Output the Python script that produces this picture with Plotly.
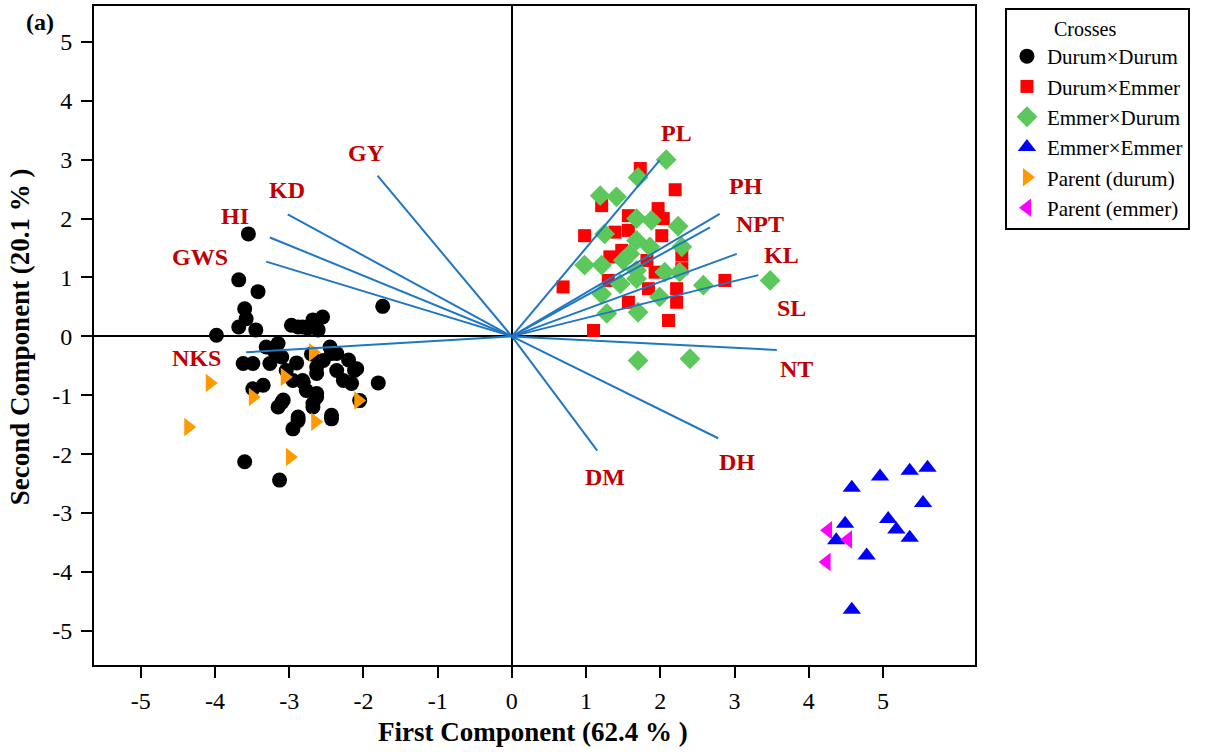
import plotly.graph_objects as go

# ---- data ----
dd_x = [-3.55, -3.68, -3.42, -3.60, -3.58, -3.68, -3.45, -3.98, -1.74,
        -2.97, -2.82, -2.68, -2.55, -2.61, -2.88, -2.75,
        -3.31, -3.15, -3.62, -3.49, -3.26, -3.10, -3.04, -2.95, -2.81, -2.63,
        -2.54, -2.36, -2.36, -2.27, -2.12, -2.16, -1.80, -3.35, -3.49, -2.77,
        -2.63, -2.68, -3.10, -3.15, -2.05, -2.88, -2.95, -2.43, -3.60, -3.13,
        -2.45, -2.43, -2.09, -2.63, -2.82, -3.08, -2.63, -2.68, -2.88, -2.43,
        -3.20, -2.90, -2.70, -2.20]
dd_y = [1.74, 0.96, 0.76, 0.47, 0.30, 0.16, 0.11, 0.02, 0.51,
        0.19, 0.16, 0.28, 0.33, 0.11, 0.16, 0.14,
        -0.18, -0.12, -0.46, -0.46, -0.46, -0.35, -0.58, -0.75, -0.78, -0.63,
        -0.41, -0.29, -0.58, -0.75, -0.58, -0.80, -0.79, -0.83, -0.89, -0.92,
        -0.97, -1.14, -1.12, -1.20, -1.09, -1.43, -1.57, -1.40, -2.13, -2.44,
        -0.18, -0.29, -0.55, -0.52, -0.75, -1.08, -1.03, -1.20, -1.37, -1.34,
        -0.25, -0.45, -0.30, -0.40]

de_x = [1.73, 2.20, 1.21, 1.97, 1.57, 0.98, 1.39, 1.57, 2.04, 2.02, 1.48, 1.32,
        2.29, 2.29, 1.82, 1.93, 1.30, 1.84, 2.87, 2.22, 2.22, 1.57, 2.11, 0.69, 1.10]
de_y = [2.85, 2.49, 2.22, 2.17, 2.05, 1.71, 1.77, 1.80, 2.00, 1.71, 1.46, 1.35,
        1.38, 1.15, 1.29, 1.09, 0.95, 0.81, 0.95, 0.81, 0.58, 0.58, 0.27, 0.84, 0.10]

ed_x = [2.08, 1.70, 1.19, 1.41, 1.68, 1.88, 2.24, 1.25, 1.68, 1.86, 1.59, 2.29,
        0.98, 1.21, 1.50, 1.68, 2.06, 2.26, 1.46, 1.21, 1.68, 1.99, 2.58, 3.48,
        1.28, 1.70, 1.70, 2.40]
ed_y = [3.00, 2.70, 2.39, 2.37, 2.00, 1.97, 1.87, 1.74, 1.63, 1.52, 1.40, 1.52,
        1.21, 1.21, 1.29, 1.12, 1.09, 1.09, 0.89, 0.72, 0.98, 0.67, 0.87, 0.95,
        0.39, 0.41, -0.41, -0.38]

ee_x = [4.58, 4.96, 5.36, 5.60, 5.54, 5.07, 5.18, 5.36, 4.49, 4.37, 4.78, 4.58]
ee_y = [-2.57, -2.38, -2.28, -2.23, -2.83, -3.10, -3.28, -3.42, -3.18, -3.46, -3.72, -4.64]

pdur_x = [-4.07, -3.49, -3.06, -2.68, -2.65, -2.07, -4.36, -2.99]
pdur_y = [-0.79, -1.03, -0.69, -0.27, -1.45, -1.09, -1.54, -2.05]

pemm_x = [4.26, 4.53, 4.24]
pemm_y = [-3.29, -3.45, -3.83]

var_names = ["PL", "PH", "NPT", "KL", "SL", "NT", "DH", "DM", "GY", "KD", "HI", "GWS", "NKS"]
var_x = [1.99, 2.80, 2.67, 3.03, 3.32, 3.57, 2.78, 1.15, -1.81, -3.02, -3.26, -3.31, -3.58]
var_y = [2.99, 2.08, 1.85, 1.40, 1.04, -0.23, -1.73, -1.94, 2.73, 2.07, 1.68, 1.27, -0.27]
lab_x = [2.22, 3.15, 3.34, 3.63, 3.77, 3.84, 3.03, 1.25, -1.97, -3.03, -3.73, -4.20, -4.25]
lab_y = [3.45, 2.55, 1.90, 1.39, 0.48, -0.56, -2.14, -2.39, 3.11, 2.48, 2.05, 1.34, -0.37]

ticks = [-5, -4, -3, -2, -1, 0, 1, 2, 3, 4, 5]
tick_text = ["-5", "-4", "-3", "-2", "-1", "0", "1", "2", "3", "4", "5"]

SERIF = "Liberation Serif, Times New Roman, serif"

fig = go.Figure()

groups = [
    ("Durum\u00d7Durum", dd_x, dd_y, "circle", "black", 15),
    ("Durum\u00d7Emmer", de_x, de_y, "square", "#ff0000", 13),
    ("Emmer\u00d7Durum", ed_x, ed_y, "diamond", "#5cc85c", 16),
    ("Emmer\u00d7Emmer", ee_x, ee_y, "triangle-up", "#0000ff", 16),
    ("Parent (durum)", pdur_x, pdur_y, "triangle-right", "#ff9900", 16),
    ("Parent (emmer)", pemm_x, pemm_y, "triangle-left", "#ff00ff", 16),
]
for name, xs, ys, sym, col, sz in groups:
    fig.add_trace(go.Scatter(
        x=xs, y=ys, mode="markers", name=name,
        marker=dict(symbol=sym, color=col, size=sz, line=dict(width=0)),
    ))

for nm, vx, vy in zip(var_names, var_x, var_y):
    fig.add_trace(go.Scatter(
        x=[0, vx], y=[0, vy], mode="lines", showlegend=False,
        line=dict(color="#1f77c4", width=2), hoverinfo="skip",
    ))

for nm, lx, ly in zip(var_names, lab_x, lab_y):
    fig.add_annotation(x=lx, y=ly, text="<b>" + nm + "</b>", showarrow=False,
                       font=dict(family=SERIF, size=24, color="#c00000"))

# panel letter and axis titles
fig.add_annotation(xref="paper", yref="paper", x=-0.0613, y=0.9757,
                   text="<b>(a)</b>", showarrow=False, xanchor="center", yanchor="middle",
                   font=dict(family=SERIF, size=24, color="black"))
fig.add_annotation(xref="paper", yref="paper", x=0.498, y=-0.1017,
                   text="<b>First Component (62.4 % )</b>", showarrow=False,
                   xanchor="center", yanchor="middle",
                   font=dict(family=SERIF, size=27, color="black"))
fig.add_annotation(xref="paper", yref="paper", x=-0.084, y=0.499,
                   text="<b>Second Component (20.1 % )</b>", showarrow=False,
                   textangle=-90, xanchor="center", yanchor="middle",
                   font=dict(family=SERIF, size=27, color="black"))

axis_common = dict(
    showgrid=False, zeroline=True, zerolinecolor="black", zerolinewidth=1.5,
    showline=True, linecolor="black", linewidth=2, mirror=True,
    ticks="outside", ticklen=11, tickwidth=2, tickcolor="black",
    tickfont=dict(family=SERIF, size=24, color="black"),
    tickvals=ticks, ticktext=tick_text, automargin=False,
)

fig.update_layout(
    width=1206, height=752,
    margin=dict(l=94, r=231, t=6, b=87),
    plot_bgcolor="white", paper_bgcolor="white",
    xaxis=dict(range=[-5.63, 6.24], ticklabelstandoff=2, **axis_common),
    yaxis=dict(range=[-5.58, 5.61], ticklabelstandoff=4, **axis_common),
    legend=dict(
        x=1.034, y=0.997, xanchor="left", yanchor="top",
        bordercolor="black", borderwidth=2, bgcolor="white",
        font=dict(family=SERIF, size=21, color="black"),
        title=dict(text="\u00a0" * 9 + "Crosses", font=dict(family=SERIF, size=20, color="black")),
        itemsizing="trace",
    ),
)

fig.write_html("out.html")
